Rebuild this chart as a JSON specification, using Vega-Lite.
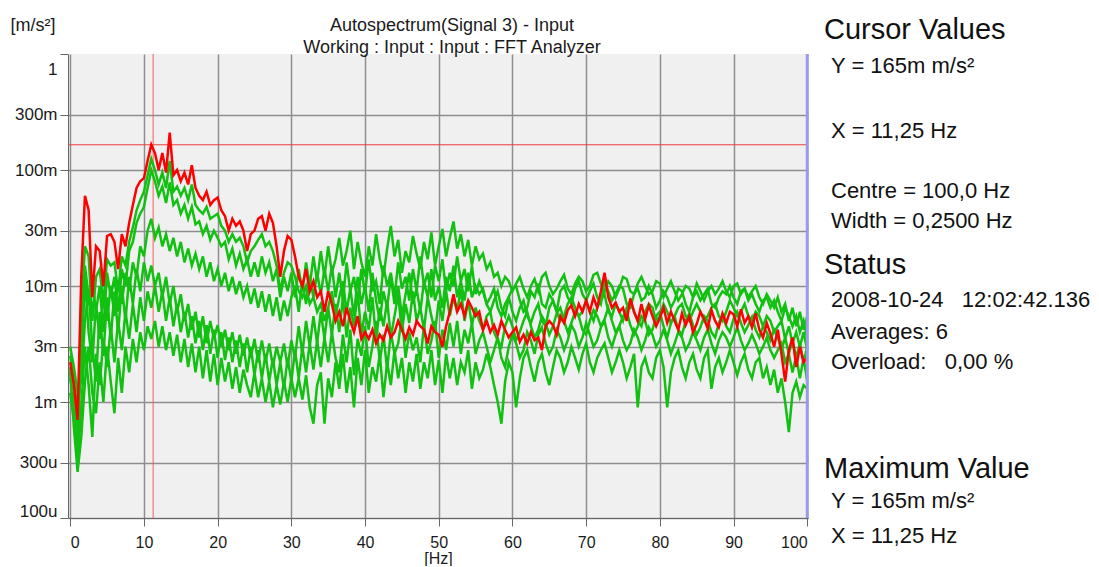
{
  "$schema": "https://vega.github.io/schema/vega-lite/v6.json",
  "background": "white",
  "padding": {"left": 10, "top": 16, "right": 0, "bottom": 0},
  "spacing": 11,
  "config": {
    "font": "Liberation Sans",
    "view": {"stroke": null},
    "axis": {"labelFont": "Liberation Sans", "titleFont": "Liberation Sans", "labelColor": "#1a1a1a", "titleColor": "#1a1a1a", "titleFontWeight": "normal"},
    "title": {"font": "Liberation Sans", "subtitleFont": "Liberation Sans"}
  },
  "datasets": {
    "spectrum": [
      {"f":0,"cur":2.2,"g1":1.6,"g2":1.2,"g3":2.5,"g4":3,"g5":1.8,"g6":2},
      {"f":0.5,"cur":1.4,"g1":1,"g2":0.7,"g3":1.5,"g4":2,"g5":0.8,"g6":0.6},
      {"f":1,"cur":0.7,"g1":0.55,"g2":0.4,"g3":0.9,"g4":1.2,"g5":0.3,"g6":0.25},
      {"f":1.5,"cur":12,"g1":6,"g2":3,"g3":2,"g4":1.5,"g5":0.9,"g6":0.5},
      {"f":2,"cur":60,"g1":22,"g2":15,"g3":12,"g4":5,"g5":3,"g6":1.5},
      {"f":2.5,"cur":45,"g1":18,"g2":8,"g3":4,"g4":9,"g5":1.4,"g6":3},
      {"f":3,"cur":8,"g1":5,"g2":11,"g3":2.2,"g4":3,"g5":0.5,"g6":1.2},
      {"f":3.5,"cur":22,"g1":12,"g2":6,"g3":7,"g4":1.5,"g5":2.6,"g6":0.8},
      {"f":4,"cur":20,"g1":14,"g2":10,"g3":3.5,"g4":6,"g5":1.4,"g6":2.2},
      {"f":4.5,"cur":10,"g1":7,"g2":4,"g3":8,"g4":2.5,"g5":3.5,"g6":1},
      {"f":5,"cur":27,"g1":17,"g2":13,"g3":5,"g4":8,"g5":2,"g6":3},
      {"f":5.5,"cur":28,"g1":15,"g2":8,"g3":10,"g4":3.5,"g5":4.5,"g6":1.5},
      {"f":6,"cur":24,"g1":16,"g2":12,"g3":5.5,"g4":9,"g5":2.2,"g6":0.8},
      {"f":6.5,"cur":14,"g1":9,"g2":6,"g3":11,"g4":4,"g5":5,"g6":2.4},
      {"f":7,"cur":28,"g1":18,"g2":14,"g3":7,"g4":10,"g5":2.8,"g6":1.2},
      {"f":7.5,"cur":22,"g1":15,"g2":10,"g3":13,"g4":5,"g5":6,"g6":3},
      {"f":8,"cur":35,"g1":24,"g2":20,"g3":9,"g4":12,"g5":3.5,"g6":1.8},
      {"f":8.5,"cur":50,"g1":32,"g2":24,"g3":16,"g4":7,"g5":7,"g6":3.5},
      {"f":9,"cur":70,"g1":45,"g2":35,"g3":12,"g4":14,"g5":4,"g6":2.2},
      {"f":9.5,"cur":80,"g1":55,"g2":42,"g3":22,"g4":9,"g5":8,"g6":4},
      {"f":10,"cur":85,"g1":65,"g2":48,"g3":18,"g4":16,"g5":5,"g6":2.8},
      {"f":10.5,"cur":120,"g1":90,"g2":70,"g3":30,"g4":11,"g5":9,"g6":4.5},
      {"f":11,"cur":165,"g1":125,"g2":100,"g3":38,"g4":15,"g5":6.5,"g6":3.5},
      {"f":11.5,"cur":140,"g1":100,"g2":80,"g3":26,"g4":10,"g5":10,"g6":5},
      {"f":12,"cur":100,"g1":75,"g2":60,"g3":32,"g4":13,"g5":6,"g6":3},
      {"f":12.5,"cur":140,"g1":95,"g2":72,"g3":22,"g4":8,"g5":9,"g6":4.5},
      {"f":13,"cur":95,"g1":70,"g2":52,"g3":28,"g4":12,"g5":5,"g6":2.8},
      {"f":13.5,"cur":210,"g1":120,"g2":78,"g3":20,"g4":7,"g5":8,"g6":4},
      {"f":14,"cur":90,"g1":65,"g2":50,"g3":26,"g4":10,"g5":4.5,"g6":2.5},
      {"f":14.5,"cur":100,"g1":72,"g2":55,"g3":18,"g4":6,"g5":7,"g6":3.8},
      {"f":15,"cur":80,"g1":60,"g2":42,"g3":24,"g4":8.5,"g5":4,"g6":2.2},
      {"f":15.5,"cur":95,"g1":70,"g2":50,"g3":16,"g4":5,"g5":6,"g6":3.5},
      {"f":16,"cur":75,"g1":55,"g2":38,"g3":21,"g4":7,"g5":3.6,"g6":2},
      {"f":16.5,"cur":110,"g1":75,"g2":48,"g3":15,"g4":4.2,"g5":5.5,"g6":3.2},
      {"f":17,"cur":70,"g1":50,"g2":34,"g3":19,"g4":6,"g5":3.2,"g6":1.8},
      {"f":17.5,"cur":60,"g1":45,"g2":36,"g3":14,"g4":3.6,"g5":5,"g6":3},
      {"f":18,"cur":55,"g1":42,"g2":28,"g3":18,"g4":5.5,"g5":2.8,"g6":1.6},
      {"f":18.5,"cur":65,"g1":48,"g2":33,"g3":12,"g4":3.2,"g5":4.6,"g6":2.8},
      {"f":19,"cur":50,"g1":38,"g2":25,"g3":16,"g4":5,"g5":2.6,"g6":1.5},
      {"f":19.5,"cur":55,"g1":40,"g2":30,"g3":11,"g4":3.5,"g5":4.2,"g6":2.6},
      {"f":20,"cur":58,"g1":42,"g2":26,"g3":14,"g4":4.6,"g5":2.4,"g6":1.4},
      {"f":20.5,"cur":45,"g1":33,"g2":22,"g3":10,"g4":3,"g5":4,"g6":2.4},
      {"f":21,"cur":40,"g1":30,"g2":24,"g3":13,"g4":4.2,"g5":2.3,"g6":1.5},
      {"f":21.5,"cur":30,"g1":24,"g2":17,"g3":9,"g4":2.8,"g5":3.6,"g6":2.2},
      {"f":22,"cur":38,"g1":28,"g2":21,"g3":12,"g4":4,"g5":2.2,"g6":1.3},
      {"f":22.5,"cur":33,"g1":24,"g2":15,"g3":8.5,"g4":2.6,"g5":3.4,"g6":2},
      {"f":23,"cur":36,"g1":26,"g2":19,"g3":11,"g4":3.8,"g5":2,"g6":1.2},
      {"f":23.5,"cur":30,"g1":22,"g2":14,"g3":8,"g4":2.5,"g5":3.2,"g6":1.9},
      {"f":24,"cur":20,"g1":16,"g2":17,"g3":10,"g4":3.6,"g5":1.8,"g6":1.4},
      {"f":24.5,"cur":28,"g1":20,"g2":12,"g3":7,"g4":2.4,"g5":3,"g6":1.1},
      {"f":25,"cur":30,"g1":22,"g2":16,"g3":9.5,"g4":3.5,"g5":1.7,"g6":1.8},
      {"f":25.5,"cur":38,"g1":25,"g2":12,"g3":6.5,"g4":2.2,"g5":2.8,"g6":1.1},
      {"f":26,"cur":40,"g1":28,"g2":18,"g3":9,"g4":3.4,"g5":1.6,"g6":1.6},
      {"f":26.5,"cur":30,"g1":22,"g2":13,"g3":6,"g4":2.2,"g5":2.6,"g6":1},
      {"f":27,"cur":42,"g1":24,"g2":16,"g3":8.5,"g4":3.2,"g5":1.5,"g6":1.5},
      {"f":27.5,"cur":35,"g1":20,"g2":11,"g3":5.5,"g4":2,"g5":2.4,"g6":0.9},
      {"f":28,"cur":22,"g1":15,"g2":14,"g3":8,"g4":3,"g5":1.4,"g6":1.4},
      {"f":28.5,"cur":12,"g1":9,"g2":8,"g3":5,"g4":2.2,"g5":2.2,"g6":0.95},
      {"f":29,"cur":20,"g1":13,"g2":12,"g3":7.5,"g4":3.2,"g5":1.3,"g6":1.5},
      {"f":29.5,"cur":27,"g1":16,"g2":9,"g3":5.5,"g4":2,"g5":2.4,"g6":1},
      {"f":30,"cur":25,"g1":15,"g2":13,"g3":8,"g4":3.4,"g5":1.5,"g6":1.6},
      {"f":30.5,"cur":18,"g1":12,"g2":8,"g3":10,"g4":2.4,"g5":2.8,"g6":1.1},
      {"f":31,"cur":12,"g1":9,"g2":14,"g3":6,"g4":4.5,"g5":1.6,"g6":1.6},
      {"f":31.5,"cur":10,"g1":8,"g2":9,"g3":11,"g4":2.6,"g5":3,"g6":1.05},
      {"f":32,"cur":14,"g1":10,"g2":16,"g3":7,"g4":5,"g5":1.8,"g6":1.7},
      {"f":32.5,"cur":9,"g1":7,"g2":10,"g3":12,"g4":3,"g5":3.2,"g6":0.9},
      {"f":33,"cur":11,"g1":8,"g2":18,"g3":8,"g4":5.5,"g5":1.9,"g6":0.65},
      {"f":33.5,"cur":8,"g1":6,"g2":11,"g3":13,"g4":3.2,"g5":3.4,"g6":1.4},
      {"f":34,"cur":9,"g1":7,"g2":20,"g3":8.5,"g4":6,"g5":2,"g6":1.8},
      {"f":34.5,"cur":6,"g1":5,"g2":12,"g3":14,"g4":3.5,"g5":3.6,"g6":0.65},
      {"f":35,"cur":9,"g1":6.5,"g2":22,"g3":9,"g4":6.5,"g5":2.2,"g6":1.6},
      {"f":35.5,"cur":7,"g1":9,"g2":13,"g3":15,"g4":3.8,"g5":4,"g6":1.1},
      {"f":36,"cur":5,"g1":5.5,"g2":17,"g3":8,"g4":7,"g5":2.4,"g6":2.2},
      {"f":36.5,"cur":6,"g1":8,"g2":26,"g3":13,"g4":4,"g5":1.8,"g6":1.3},
      {"f":37,"cur":4.5,"g1":11,"g2":15,"g3":7.5,"g4":8,"g5":3.8,"g6":2.6},
      {"f":37.5,"cur":6.5,"g1":6,"g2":20,"g3":16,"g4":3.6,"g5":2.2,"g6":1.2},
      {"f":38,"cur":5,"g1":9.5,"g2":30,"g3":9,"g4":6.5,"g5":4.2,"g6":2},
      {"f":38.5,"cur":4,"g1":5.5,"g2":14,"g3":12,"g4":4.5,"g5":1.7,"g6":0.9},
      {"f":39,"cur":5.5,"g1":12,"g2":24,"g3":7,"g4":9,"g5":3.5,"g6":2.4},
      {"f":39.5,"cur":3.5,"g1":7,"g2":16,"g3":14,"g4":3.8,"g5":2.5,"g6":1.4},
      {"f":40,"cur":4,"g1":10,"g2":12,"g3":8.5,"g4":6,"g5":4.5,"g6":2.8},
      {"f":40.5,"cur":3.5,"g1":6,"g2":22,"g3":17,"g4":4.2,"g5":2,"g6":1.2},
      {"f":41,"cur":4.2,"g1":13,"g2":15,"g3":9,"g4":8,"g5":3,"g6":2},
      {"f":41.5,"cur":3.2,"g1":7.5,"g2":28,"g3":11,"g4":3.4,"g5":5,"g6":1.5},
      {"f":42,"cur":3.8,"g1":5,"g2":17,"g3":7,"g4":6.5,"g5":2.2,"g6":2.6},
      {"f":42.5,"cur":3.4,"g1":9,"g2":12,"g3":15,"g4":4.5,"g5":3.8,"g6":1.1},
      {"f":43,"cur":4.5,"g1":6.5,"g2":21,"g3":10,"g4":7.5,"g5":1.9,"g6":2.2},
      {"f":43.5,"cur":3.6,"g1":12,"g2":33,"g3":13,"g4":3.6,"g5":4,"g6":1.4},
      {"f":44,"cur":4,"g1":7,"g2":18,"g3":8,"g4":5.5,"g5":2.6,"g6":2.8},
      {"f":44.5,"cur":5,"g1":10,"g2":25,"g3":16,"g4":8.5,"g5":3.2,"g6":1.6},
      {"f":45,"cur":4.2,"g1":5.5,"g2":13,"g3":9.5,"g4":4,"g5":5.5,"g6":2.4},
      {"f":45.5,"cur":3.5,"g1":8.5,"g2":20,"g3":12,"g4":7,"g5":2.4,"g6":1.2},
      {"f":46,"cur":4.4,"g1":13,"g2":16,"g3":7.5,"g4":4.8,"g5":4,"g6":2.2},
      {"f":46.5,"cur":3.8,"g1":7,"g2":27,"g3":14,"g4":9,"g5":2.8,"g6":1.5},
      {"f":47,"cur":5,"g1":9.5,"g2":19,"g3":9,"g4":5,"g5":3.6,"g6":2.6},
      {"f":47.5,"cur":4.5,"g1":6,"g2":14,"g3":18,"g4":6.5,"g5":2.2,"g6":1.3},
      {"f":48,"cur":4.2,"g1":11,"g2":24,"g3":10,"g4":4.2,"g5":4.6,"g6":2.2},
      {"f":48.5,"cur":3.2,"g1":8,"g2":17,"g3":13,"g4":8,"g5":2.6,"g6":1.6},
      {"f":49,"cur":4.5,"g1":14,"g2":29,"g3":8,"g4":5.5,"g5":3.4,"g6":2.8},
      {"f":49.5,"cur":4,"g1":7.5,"g2":15,"g3":15,"g4":4,"g5":5,"g6":1.4},
      {"f":50,"cur":3.8,"g1":10,"g2":22,"g3":11,"g4":7.5,"g5":2.4,"g6":2.3},
      {"f":50.5,"cur":3,"g1":6.5,"g2":31,"g3":17,"g4":5,"g5":4.2,"g6":1.2},
      {"f":51,"cur":4.5,"g1":12,"g2":18,"g3":9,"g4":9,"g5":2.8,"g6":2.6},
      {"f":51.5,"cur":6,"g1":9,"g2":26,"g3":13,"g4":5.5,"g5":4.8,"g6":1.6},
      {"f":52,"cur":8.5,"g1":15,"g2":36,"g3":10,"g4":8,"g5":3,"g6":2.4},
      {"f":52.5,"cur":6,"g1":8,"g2":21,"g3":18,"g4":6,"g5":5,"g6":1.4},
      {"f":53,"cur":7,"g1":11,"g2":28,"g3":11,"g4":9.5,"g5":2.6,"g6":2.2},
      {"f":53.5,"cur":5.5,"g1":7.5,"g2":18,"g3":14,"g4":5,"g5":4.2,"g6":1.8},
      {"f":54,"cur":7.5,"g1":13,"g2":25,"g3":9,"g4":7.5,"g5":3.2,"g6":2.8},
      {"f":54.5,"cur":6.5,"g1":8,"g2":15,"g3":15,"g4":4.6,"g5":4.8,"g6":1.3},
      {"f":55,"cur":5.5,"g1":10,"g2":22,"g3":8.5,"g4":6.5,"g5":2.6,"g6":2.2},
      {"f":55.5,"cur":6,"g1":8.5,"g2":17,"g3":11,"g4":5,"g5":3.4,"g6":1.6},
      {"f":56,"cur":4.2,"g1":9.5,"g2":19,"g3":9,"g4":4.2,"g5":4,"g6":1.9},
      {"f":56.5,"cur":5,"g1":7,"g2":14,"g3":7,"g4":5.5,"g5":3,"g6":2.6},
      {"f":57,"cur":4,"g1":6,"g2":16,"g3":8,"g4":6,"g5":2.2,"g6":2},
      {"f":57.5,"cur":4.6,"g1":7.5,"g2":12,"g3":9.5,"g4":4,"g5":2.8,"g6":1.4},
      {"f":58,"cur":3.8,"g1":9,"g2":13,"g3":6.5,"g4":3.4,"g5":3.6,"g6":1},
      {"f":58.5,"cur":5,"g1":6.5,"g2":10,"g3":5.5,"g4":3,"g5":2.4,"g6":0.65},
      {"f":59,"cur":4.2,"g1":5.5,"g2":12,"g3":7,"g4":4.5,"g5":2,"g6":1.5},
      {"f":59.5,"cur":3.6,"g1":8,"g2":11,"g3":8,"g4":5.5,"g5":3,"g6":2.2},
      {"f":60,"cur":4,"g1":9.5,"g2":9,"g3":6,"g4":4.5,"g5":3.8,"g6":1.8},
      {"f":60.5,"cur":4.4,"g1":10,"g2":10.5,"g3":5,"g4":3.4,"g5":3.2,"g6":0.9},
      {"f":61,"cur":3.3,"g1":7.5,"g2":12,"g3":6.5,"g4":4,"g5":2.4,"g6":1.6},
      {"f":61.5,"cur":3.8,"g1":6,"g2":9.5,"g3":7.5,"g4":5,"g5":2.8,"g6":2.4},
      {"f":62,"cur":3.2,"g1":6.5,"g2":8,"g3":5.5,"g4":6,"g5":4,"g6":2.8},
      {"f":62.5,"cur":4,"g1":9,"g2":10,"g3":4.8,"g4":4.5,"g5":3.4,"g6":2},
      {"f":63,"cur":3.4,"g1":8,"g2":11.5,"g3":6,"g4":3.6,"g5":2.6,"g6":1.5},
      {"f":63.5,"cur":3.6,"g1":10.5,"g2":9,"g3":7,"g4":4.2,"g5":3.8,"g6":2.2},
      {"f":64,"cur":2.8,"g1":7,"g2":12,"g3":5,"g4":5.5,"g5":4.4,"g6":2.6},
      {"f":64.5,"cur":4.5,"g1":6.5,"g2":13,"g3":4.5,"g4":4.8,"g5":3.2,"g6":1.8},
      {"f":65,"cur":5,"g1":8.5,"g2":10,"g3":6.5,"g4":3.8,"g5":2.6,"g6":1.4},
      {"f":65.5,"cur":4.6,"g1":7.5,"g2":8.5,"g3":7.5,"g4":4.5,"g5":3,"g6":2},
      {"f":66,"cur":3.8,"g1":6,"g2":9.5,"g3":6,"g4":5.8,"g5":4.2,"g6":2.8},
      {"f":66.5,"cur":5.5,"g1":9,"g2":11,"g3":5,"g4":6.5,"g5":3.6,"g6":2.4},
      {"f":67,"cur":4.8,"g1":10,"g2":12.5,"g3":5.5,"g4":5,"g5":2.8,"g6":1.8},
      {"f":67.5,"cur":6.2,"g1":8,"g2":9.5,"g3":7,"g4":4,"g5":3.4,"g6":2.2},
      {"f":68,"cur":6.8,"g1":7,"g2":8.5,"g3":8,"g4":4.8,"g5":4.6,"g6":3},
      {"f":68.5,"cur":5.5,"g1":9.5,"g2":10.5,"g3":6.5,"g4":6,"g5":4,"g6":2.4},
      {"f":69,"cur":7,"g1":11,"g2":12,"g3":5.5,"g4":5.5,"g5":3,"g6":1.9},
      {"f":69.5,"cur":6,"g1":8.5,"g2":11,"g3":6,"g4":4.2,"g5":3.6,"g6":2.6},
      {"f":70,"cur":7.5,"g1":7.5,"g2":9,"g3":7.5,"g4":3.8,"g5":4.8,"g6":3.2},
      {"f":70.5,"cur":6,"g1":9,"g2":10,"g3":6,"g4":5,"g5":3.8,"g6":2.2},
      {"f":71,"cur":8,"g1":10.5,"g2":12.5,"g3":5,"g4":6.2,"g5":3,"g6":1.8},
      {"f":71.5,"cur":6.5,"g1":8,"g2":13,"g3":6.5,"g4":5.5,"g5":3.4,"g6":2.4},
      {"f":72,"cur":9,"g1":7,"g2":10.5,"g3":7.5,"g4":4.5,"g5":4.4,"g6":2.8},
      {"f":72.5,"cur":13,"g1":11,"g2":9,"g3":8.5,"g4":5.2,"g5":5,"g6":3.2},
      {"f":73,"cur":8,"g1":9,"g2":11,"g3":6,"g4":6.5,"g5":3.6,"g6":2.4},
      {"f":73.5,"cur":6.5,"g1":7.5,"g2":10,"g3":5.5,"g4":5,"g5":3,"g6":1.8},
      {"f":74,"cur":7.2,"g1":8.5,"g2":8,"g3":7,"g4":4,"g5":3.8,"g6":2.2},
      {"f":74.5,"cur":6,"g1":10,"g2":9.5,"g3":6,"g4":4.5,"g5":4.5,"g6":2.8},
      {"f":75,"cur":6.5,"g1":9.5,"g2":12,"g3":5,"g4":5.5,"g5":3.4,"g6":2.2},
      {"f":75.5,"cur":5,"g1":7,"g2":11.5,"g3":6.5,"g4":6,"g5":2.8,"g6":1.6},
      {"f":76,"cur":7.8,"g1":6.5,"g2":9,"g3":7.5,"g4":4.6,"g5":3.2,"g6":2},
      {"f":76.5,"cur":6,"g1":8.5,"g2":8.5,"g3":6,"g4":3.8,"g5":4.2,"g6":2.6},
      {"f":77,"cur":5,"g1":9.5,"g2":10.5,"g3":5,"g4":4.5,"g5":3.6,"g6":0.9},
      {"f":77.5,"cur":7,"g1":7.5,"g2":12,"g3":4.5,"g4":5.5,"g5":2.8,"g6":2},
      {"f":78,"cur":5.2,"g1":8,"g2":10,"g3":6,"g4":5,"g5":3.4,"g6":2.4},
      {"f":78.5,"cur":6.8,"g1":10,"g2":8.5,"g3":7,"g4":3.8,"g5":4.4,"g6":1.8},
      {"f":79,"cur":5.5,"g1":8.5,"g2":9,"g3":6.5,"g4":4.2,"g5":3.8,"g6":1.6},
      {"f":79.5,"cur":4.5,"g1":6.5,"g2":11,"g3":5,"g4":5.5,"g5":3,"g6":2.4},
      {"f":80,"cur":5.3,"g1":7.5,"g2":10.5,"g3":5.5,"g4":6,"g5":3.4,"g6":2.8},
      {"f":80.5,"cur":6.5,"g1":9,"g2":8,"g3":7,"g4":4.5,"g5":4.2,"g6":2},
      {"f":81,"cur":4.8,"g1":8,"g2":9.5,"g3":6,"g4":3.6,"g5":3.4,"g6":0.9},
      {"f":81.5,"cur":6,"g1":6.5,"g2":11,"g3":4.8,"g4":4.8,"g5":2.6,"g6":1.8},
      {"f":82,"cur":5,"g1":7.5,"g2":9,"g3":5.5,"g4":5.5,"g5":3.2,"g6":2.4},
      {"f":82.5,"cur":4.2,"g1":9.5,"g2":7.5,"g3":6.5,"g4":4.2,"g5":4,"g6":2.8},
      {"f":83,"cur":5.8,"g1":9,"g2":8.5,"g3":7,"g4":3.8,"g5":3.6,"g6":2},
      {"f":83.5,"cur":4.6,"g1":7,"g2":10,"g3":5.5,"g4":5,"g5":2.8,"g6":1.6},
      {"f":84,"cur":5.5,"g1":6,"g2":9.5,"g3":5,"g4":5.8,"g5":3.2,"g6":2.2},
      {"f":84.5,"cur":4,"g1":8,"g2":8,"g3":6,"g4":4.6,"g5":4,"g6":2.6},
      {"f":85,"cur":4.7,"g1":9,"g2":10.5,"g3":7,"g4":3.8,"g5":3.4,"g6":1.9},
      {"f":85.5,"cur":6,"g1":7.5,"g2":9,"g3":6,"g4":4.4,"g5":2.8,"g6":1.6},
      {"f":86,"cur":5.2,"g1":8.5,"g2":7.5,"g3":5,"g4":5.5,"g5":3.6,"g6":2.4},
      {"f":86.5,"cur":4.3,"g1":9.5,"g2":9,"g3":5.5,"g4":5,"g5":4.2,"g6":2.8},
      {"f":87,"cur":6.2,"g1":7,"g2":10,"g3":6.5,"g4":4,"g5":3.2,"g6":1.3},
      {"f":87.5,"cur":5,"g1":6.5,"g2":8.5,"g3":7,"g4":3.6,"g5":2.6,"g6":2},
      {"f":88,"cur":4.4,"g1":8,"g2":9.5,"g3":5.5,"g4":4.8,"g5":3.4,"g6":2.4},
      {"f":88.5,"cur":5.8,"g1":9,"g2":11,"g3":5,"g4":5.6,"g5":4,"g6":1.8},
      {"f":89,"cur":4.8,"g1":8.5,"g2":9,"g3":6,"g4":4.5,"g5":3.6,"g6":2.2},
      {"f":89.5,"cur":6,"g1":10,"g2":8,"g3":7.5,"g4":4,"g5":3,"g6":2.8},
      {"f":90,"cur":5.7,"g1":8,"g2":10,"g3":6.5,"g4":5.2,"g5":3.6,"g6":2.2},
      {"f":90.5,"cur":4.5,"g1":7,"g2":10.5,"g3":5.5,"g4":6,"g5":4.4,"g6":1.7},
      {"f":91,"cur":6.3,"g1":9,"g2":8.5,"g3":6,"g4":4.8,"g5":3.4,"g6":2.2},
      {"f":91.5,"cur":4.8,"g1":9.5,"g2":9.5,"g3":7,"g4":4,"g5":2.8,"g6":2.6},
      {"f":92,"cur":5.5,"g1":7.5,"g2":8,"g3":5.5,"g4":4.6,"g5":3.2,"g6":1.9},
      {"f":92.5,"cur":4.4,"g1":8.5,"g2":9,"g3":5,"g4":5.4,"g5":3.8,"g6":1.6},
      {"f":93,"cur":5.8,"g1":7,"g2":10,"g3":6,"g4":4.2,"g5":3.2,"g6":2.2},
      {"f":93.5,"cur":4.2,"g1":6,"g2":8,"g3":5.5,"g4":3.6,"g5":2.6,"g6":2.4},
      {"f":94,"cur":3.6,"g1":7.5,"g2":7,"g3":4.5,"g4":4.5,"g5":3,"g6":1.6},
      {"f":94.5,"cur":4.8,"g1":8,"g2":8.5,"g3":5.5,"g4":4,"g5":3.6,"g6":2},
      {"f":95,"cur":3.9,"g1":6.5,"g2":7.5,"g3":5,"g4":3.4,"g5":2.8,"g6":1.4},
      {"f":95.5,"cur":3,"g1":7.5,"g2":6.5,"g3":4,"g4":4.2,"g5":2.4,"g6":1.9},
      {"f":96,"cur":4.2,"g1":6,"g2":8,"g3":4.5,"g4":3.6,"g5":2.8,"g6":1.2},
      {"f":96.5,"cur":2.6,"g1":5,"g2":6,"g3":5,"g4":2.8,"g5":3.2,"g6":1.6},
      {"f":97,"cur":1.5,"g1":6.5,"g2":7,"g3":3.5,"g4":3.6,"g5":2.2,"g6":1},
      {"f":97.5,"cur":2.8,"g1":5.5,"g2":5,"g3":4.5,"g4":2.6,"g5":2.6,"g6":0.55},
      {"f":98,"cur":3.6,"g1":4.5,"g2":6.5,"g3":3.2,"g4":3.4,"g5":1.8,"g6":1.2},
      {"f":98.5,"cur":2,"g1":5.5,"g2":4.5,"g3":4,"g4":2.4,"g5":2.5,"g6":1.5},
      {"f":99,"cur":3,"g1":4,"g2":6,"g3":3,"g4":3.2,"g5":1.6,"g6":1.1},
      {"f":99.5,"cur":2.2,"g1":5,"g2":4.2,"g3":4,"g4":2.2,"g5":2.4,"g6":1.4},
      {"f":100,"cur":2.4,"g1":3.5,"g2":5.5,"g3":2.8,"g4":3,"g5":1.5,"g6":1.3}
    ]
  },
  "hconcat": [
    {
      "width": 740,
      "height": 464,
      "view": {"fill": "#f0f0f0", "stroke": null},
      "title": {
        "text": "Autospectrum(Signal 3) - Input",
        "subtitle": "Working : Input : Input : FFT Analyzer",
        "anchor": "middle",
        "dx": 14,
        "fontSize": 18,
        "subtitleFontSize": 18,
        "fontWeight": "normal",
        "color": "#1a1a1a",
        "subtitleColor": "#1a1a1a",
        "offset": -41,
        "subtitlePadding": 4
      },
      "layer": [
        {
          "data": {"values": [{"f": 11.25}]},
          "mark": {"type": "rule", "color": "#ff5a5a", "strokeWidth": 1},
          "encoding": {"x": {"field": "f", "type": "quantitative", "scale": {"domain": [-0.3, 100.1], "nice": false, "zero": false}}}
        },
        {
          "data": {"values": [{"v": 165}]},
          "mark": {"type": "rule", "color": "#f03c3c", "strokeWidth": 1},
          "encoding": {"y": {"field": "v", "type": "quantitative", "scale": {"type": "log", "domain": [0.1, 1000], "nice": false}}}
        },
        {
          "data": {"name": "spectrum"},
          "transform": [{"fold": ["g1", "g2", "g3", "g4", "g5", "g6"], "as": ["avg", "level"]}],
          "mark": {"type": "line", "color": "#12c012", "strokeWidth": 2.5},
          "encoding": {
            "x": {
              "field": "f", "type": "quantitative",
              "scale": {"domain": [-0.3, 100.1], "nice": false, "zero": false},
              "axis": {
                "values": [0, 10, 20, 30, 40, 50, 60, 70, 80, 90, 100],
                "format": "d",
                "labelFlush": 5,
                "title": "[Hz]",
                "titleFontSize": 16,
                "titlePadding": 0,
                "labelFontSize": 16,
                "labelPadding": 8,
                "tickSize": 8,
                "grid": true,
                "gridColor": "#8e8e8e",
                "gridWidth": 1.5,
                "domainColor": "#666666",
                "tickColor": "#666666"
              }
            },
            "y": {
              "field": "level", "type": "quantitative",
              "scale": {"type": "log", "domain": [0.1, 1000], "nice": false},
              "axis": {
                "values": [0.1, 0.3, 1, 3, 10, 30, 100, 300, 1000],
                "labelExpr": "datum.value >= 1000 ? format(datum.value / 1000, 'd') : (datum.value >= 1 ? format(datum.value, 'd') + 'm' : format(datum.value * 1000, 'd') + 'u')",
                "title": "[m/s²]",
                "titleAngle": 0,
                "titleAlign": "left",
                "titleBaseline": "alphabetic",
                "titleX": -58,
                "titleY": -24,
                "titleFontSize": 18,
                "labelFontSize": 17,
                "labelPadding": 3,
                "labelBaseline": "middle",
                "labelOffset": {"condition": [{"test": "datum.value >= 1000", "value": 15}, {"test": "datum.value <= 0.1", "value": -7}], "value": 0},
                "tickSize": 8,
                "grid": true,
                "gridColor": {"condition": {"test": "datum.value >= 1000", "value": "transparent"}, "value": "#8e8e8e"},
                "gridWidth": 1.5,
                "domainColor": "#666666",
                "tickColor": "#666666"
              }
            },
            "detail": {"field": "avg", "type": "nominal"}
          }
        },
        {
          "data": {"name": "spectrum"},
          "mark": {"type": "line", "color": "#ff0000", "strokeWidth": 2.5},
          "encoding": {
            "x": {"field": "f", "type": "quantitative", "scale": {"domain": [-0.3, 100.1], "nice": false, "zero": false}},
            "y": {"field": "cur", "type": "quantitative", "scale": {"type": "log", "domain": [0.1, 1000], "nice": false}}
          }
        },
        {
          "data": {"values": [{"f": 100}]},
          "mark": {"type": "rule", "color": "#9a9aec", "strokeWidth": 3},
          "encoding": {"x": {"field": "f", "type": "quantitative", "scale": {"domain": [-0.3, 100.1], "nice": false, "zero": false}}}
        }
      ]
    },
    {
      "width": 270,
      "height": 450,
      "view": {"stroke": null},
      "data": {"values": [
        {"kind": "heading", "row": -0.5, "text": "Cursor Values"},
        {"kind": "item", "row": 0.63, "text": "Y = 165m m/s²"},
        {"kind": "item", "row": 2.8, "text": "X = 11,25 Hz"},
        {"kind": "item", "row": 4.8, "text": "Centre = 100,0 Hz"},
        {"kind": "item", "row": 5.8, "text": "Width = 0,2500 Hz"},
        {"kind": "heading", "row": 7.33, "text": "Status"},
        {"kind": "item", "row": 8.43, "text": "2008-10-24\u00a0\u00a0\u00a012:02:42.136"},
        {"kind": "item", "row": 9.5, "text": "Averages: 6"},
        {"kind": "item", "row": 10.5, "text": "Overload:\u00a0\u00a0\u00a00,00 %"},
        {"kind": "heading", "row": 14.13, "text": "Maximum Value"},
        {"kind": "item", "row": 15.13, "text": "Y = 165m m/s²"},
        {"kind": "item", "row": 16.3, "text": "X = 11,25 Hz"}
      ]},
      "layer": [
        {
          "transform": [{"filter": "datum.kind == 'heading'"}],
          "mark": {"type": "text", "align": "left", "baseline": "alphabetic", "fontSize": 29, "color": "#111111"},
          "encoding": {
            "x": {"datum": 0, "type": "quantitative", "scale": {"domain": [0, 1]}, "axis": null},
            "y": {"field": "row", "type": "quantitative", "scale": {"domain": [0, 15], "reverse": true}, "axis": null},
            "text": {"field": "text", "type": "nominal"}
          }
        },
        {
          "transform": [{"filter": "datum.kind == 'item'"}],
          "mark": {"type": "text", "align": "left", "baseline": "alphabetic", "fontSize": 22, "dx": 7, "color": "#111111"},
          "encoding": {
            "x": {"datum": 0, "type": "quantitative", "scale": {"domain": [0, 1]}, "axis": null},
            "y": {"field": "row", "type": "quantitative", "scale": {"domain": [0, 15], "reverse": true}, "axis": null},
            "text": {"field": "text", "type": "nominal"}
          }
        }
      ]
    }
  ]
}
